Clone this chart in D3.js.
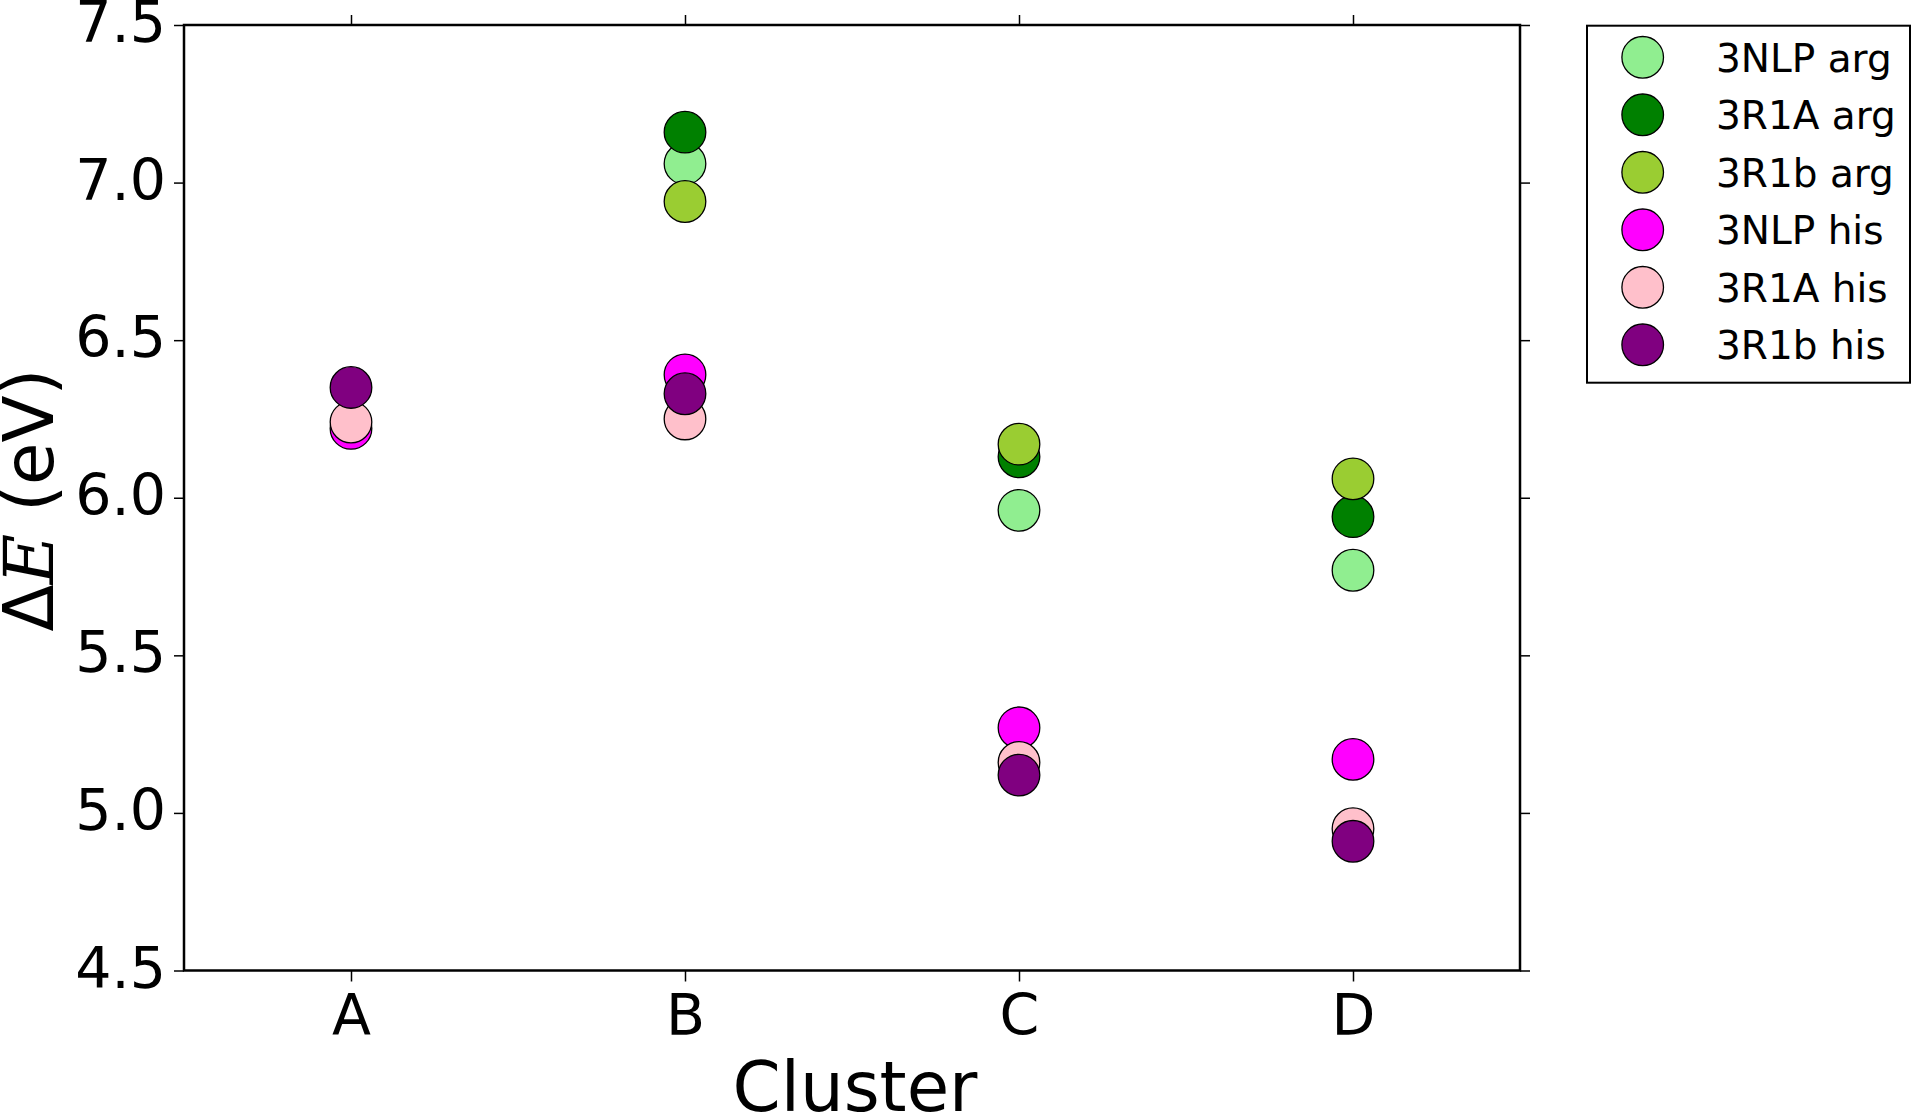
<!DOCTYPE html>
<html>
<head>
<meta charset="utf-8">
<script src="https://cdn.jsdelivr.net/npm/d3@7"></script>
<style>
  body { margin: 0; background: #fff; }
  text { font-family: "DejaVu Sans", sans-serif; fill: #000; }
</style>
</head>
<body>
<div id="chart"></div>
<script>
const categories = ["A", "B", "C", "D"];
const yTicks = [4.5, 5.0, 5.5, 6.0, 6.5, 7.0, 7.5];

// one value per cluster, null where the series has no point
const nlpArg = [null, 7.06, 5.96, 5.77];
const r1aArg = [null, 7.16, 6.13, 5.94];
const r1bArg = [null, 6.94, 6.17, 6.06];
const nlpHis = [6.22, 6.39, 5.27, 5.17];
const r1aHis = [6.24, 6.25, 5.16, 4.95];
const r1bHis = [6.35, 6.33, 5.12, 4.91];

const seriesNames = ["3NLP arg", "3R1A arg", "3R1b arg", "3NLP his", "3R1A his", "3R1b his"];
const seriesColors = ["#90ee90", "#008000", "#9acd32", "#ff00ff", "#ffc0cb", "#800080"];
const seriesValues = [nlpArg, r1aArg, r1bArg, nlpHis, r1aHis, r1bHis];

const width = 1913,
  height = 1115,
  margin = { top: 25, left: 184, right: 393, bottom: 144.5 },
  plotW = width - margin.left - margin.right,
  plotH = height - margin.top - margin.bottom,
  r = 20.8;

const svg = d3
  .select("#chart")
  .append("svg")
  .attr("width", width)
  .attr("height", height);

const g = svg
  .append("g")
  .attr("transform", `translate(${margin.left}, ${margin.top})`);

const x = d3.scaleLinear().domain([0.5, 4.5]).range([0, plotW]);
const y = d3.scaleLinear().domain([4.5, 7.5]).range([plotH, 0]);

const xTicks = categories.map((c, i) => i + 1);

// axes (ticks outward on all four sides)
const leftAxis = g
  .append("g")
  .call(
    d3.axisLeft(y).tickValues(yTicks).tickFormat(d3.format(".1f"))
      .tickSize(10).tickPadding(8).tickSizeOuter(0)
  );
leftAxis.selectAll("text").style("font-size", "57px").attr("dy", "0.29em");

const rightAxis = g
  .append("g")
  .attr("transform", `translate(${plotW},0)`)
  .call(d3.axisRight(y).tickValues(yTicks).tickFormat("").tickSize(10).tickSizeOuter(0));

const bottomAxis = g
  .append("g")
  .attr("transform", `translate(0,${plotH})`)
  .call(
    d3.axisBottom(x).tickValues(xTicks).tickFormat((d) => categories[d - 1])
      .tickSize(11).tickPadding(13).tickSizeOuter(0)
  );
bottomAxis.selectAll("text").style("font-size", "57px");

const topAxis = g
  .append("g")
  .call(d3.axisTop(x).tickValues(xTicks).tickFormat("").tickSize(10).tickSizeOuter(0));

[leftAxis, rightAxis, bottomAxis, topAxis].forEach(function (a) {
  a.select(".domain").remove();
  a.selectAll(".tick line").attr("stroke", "#000").attr("stroke-width", 1.5);
});

// frame
g.append("rect")
  .attr("width", plotW)
  .attr("height", plotH)
  .attr("fill", "none")
  .attr("stroke", "#000")
  .attr("stroke-width", 2.5);

// points, drawn series by series
seriesValues.forEach(function (vals, s) {
  g.append("g")
    .selectAll("circle")
    .data(vals.map((v, i) => ({ i: i + 1, v: v })).filter((d) => d.v !== null))
    .enter()
    .append("circle")
    .attr("cx", (d) => x(d.i))
    .attr("cy", (d) => y(d.v))
    .attr("r", r)
    .attr("fill", seriesColors[s])
    .attr("stroke", "#000")
    .attr("stroke-width", 1.3);
});

// axis labels
svg
  .append("text")
  .attr("x", margin.left + plotW / 2 + 3)
  .attr("y", 1111)
  .attr("text-anchor", "middle")
  .style("font-size", "69px")
  .text("Cluster");

const yLabel = svg
  .append("text")
  .attr("transform", "translate(53, 500) rotate(-90)")
  .attr("text-anchor", "middle")
  .style("font-size", "69px");
yLabel.append("tspan").text("Δ");
yLabel
  .append("tspan")
  .style("font-family", "'DejaVu Serif', serif")
  .style("font-style", "italic")
  .text("E");
yLabel.append("tspan").text(" (eV)");

// legend
const legend = svg.append("g");
legend
  .append("rect")
  .attr("x", 1587)
  .attr("y", 25.7)
  .attr("width", 323)
  .attr("height", 357)
  .attr("fill", "#fff")
  .attr("stroke", "#000")
  .attr("stroke-width", 2);

const rows = legend
  .selectAll(".row")
  .data(seriesNames)
  .enter()
  .append("g")
  .attr("class", "row")
  .attr("transform", (d, i) => `translate(0, ${57.3 + i * 57.5})`);

rows
  .append("circle")
  .attr("cx", 1642.7)
  .attr("cy", 0)
  .attr("r", r)
  .attr("fill", (d, i) => seriesColors[i])
  .attr("stroke", "#000")
  .attr("stroke-width", 1.3);

rows
  .append("text")
  .attr("x", 1716)
  .attr("y", 14.5)
  .style("font-size", "39px")
  .text((d) => d);
</script>
</body>
</html>
